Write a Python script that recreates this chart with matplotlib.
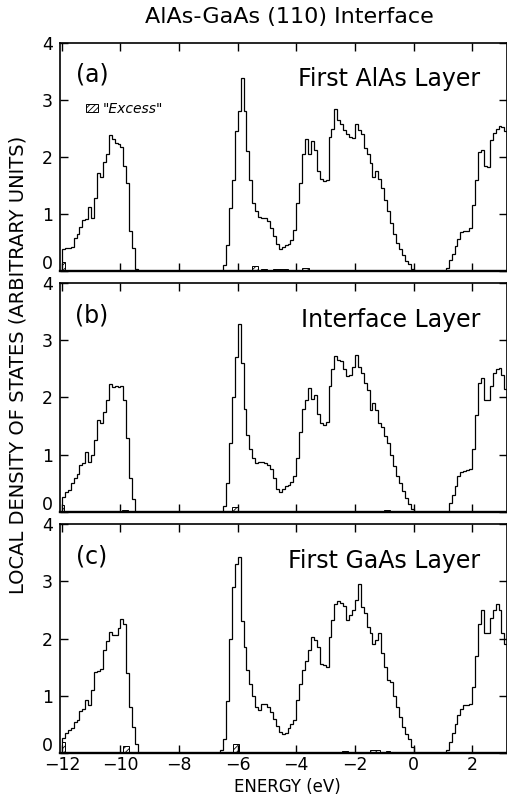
import numpy as np
import matplotlib
matplotlib.use("Agg")
import matplotlib.pyplot as plt
from matplotlib.patches import Patch
from matplotlib.transforms import ScaledTranslation

plt.rcParams['font.family'] = ['DejaVu Sans']
plt.rcParams['hatch.linewidth'] = 0.6

# histogram bins: 0.1 eV wide, starting at -12.0 eV
e_start = -12.0
bin_width = 0.1

# first AlAs layer
dos_a = [
    0.38, 0.40, 0.40, 0.42, 0.58, 0.65, 0.78, 0.90, 0.92, 1.12,
    0.93, 1.28, 1.72, 1.65, 1.92, 2.05, 2.38, 2.32, 2.25, 2.22,
    2.18, 1.85, 1.55, 0.70, 0.40, 0.03, 0, 0, 0, 0,
    0, 0, 0, 0, 0, 0, 0, 0, 0, 0,
    0, 0, 0, 0, 0, 0, 0, 0, 0, 0,
    0, 0, 0, 0, 0, 0.10, 0.45, 1.10, 1.60, 2.45,
    2.80, 3.38, 2.80, 2.10, 1.60, 1.20, 1.05, 0.95, 0.93, 0.93,
    0.88, 0.75, 0.62, 0.48, 0.38, 0.43, 0.45, 0.47, 0.55, 0.72,
    1.20, 1.55, 2.05, 2.31, 2.05, 2.28, 2.12, 1.75, 1.62, 1.58,
    1.60, 2.35, 2.50, 2.85, 2.65, 2.58, 2.48, 2.40, 2.35, 2.34,
    2.58, 2.48, 2.40, 2.15, 2.05, 1.90, 1.65, 1.75, 1.62, 1.45,
    1.25, 1.05, 0.85, 0.65, 0.50, 0.38, 0.28, 0.18, 0.12, 0.04,
    0, 0, 0, 0, 0, 0, 0, 0, 0, 0,
    0, 0.06, 0.20, 0.30, 0.44, 0.56, 0.68, 0.70, 0.71, 0.75,
    1.15, 1.60, 2.08, 2.12, 1.84, 1.82, 2.30, 2.42, 2.50, 2.54,
    2.52, 2.45,
]

# interface layer
dos_b = [
    0.26, 0.35, 0.38, 0.50, 0.60, 0.66, 0.82, 0.85, 1.05, 0.88,
    1.00, 1.25, 1.60, 1.55, 1.75, 1.95, 2.24, 2.18, 2.20, 2.18,
    2.20, 1.95, 1.30, 0.60, 0.22, 0, 0, 0, 0, 0,
    0, 0, 0, 0, 0, 0, 0, 0, 0, 0,
    0, 0, 0, 0, 0, 0, 0, 0, 0, 0,
    0, 0, 0, 0, 0, 0.10, 0.50, 1.20, 2.00, 2.70,
    3.28, 2.60, 1.80, 1.35, 1.10, 0.95, 0.86, 0.88, 0.88, 0.85,
    0.82, 0.75, 0.60, 0.40, 0.35, 0.40, 0.45, 0.47, 0.52, 0.62,
    0.95, 1.40, 1.80, 1.96, 2.16, 1.98, 2.05, 1.72, 1.55, 1.52,
    1.58, 2.20, 2.50, 2.72, 2.66, 2.63, 2.49, 2.37, 2.40, 2.54,
    2.75, 2.54, 2.43, 2.25, 2.13, 1.78, 1.90, 1.78, 1.55, 1.49,
    1.32, 1.20, 1.00, 0.80, 0.62, 0.50, 0.36, 0.24, 0.14, 0.05,
    0, 0, 0, 0, 0, 0, 0, 0, 0, 0,
    0, 0, 0.15, 0.30, 0.45, 0.62, 0.70, 0.72, 0.73, 0.75,
    1.10, 1.70, 2.25, 2.34, 1.96, 1.96, 2.20, 2.43, 2.50, 2.52,
    2.40, 2.15,
]

# first GaAs layer
dos_c = [
    0.27, 0.35, 0.40, 0.44, 0.54, 0.57, 0.74, 0.77, 0.92, 0.83,
    1.10, 1.42, 1.43, 1.47, 1.80, 1.95, 2.12, 2.07, 2.06, 2.18,
    2.34, 2.25, 1.40, 0.80, 0.45, 0.15, 0, 0, 0, 0,
    0, 0, 0, 0, 0, 0, 0, 0, 0, 0,
    0, 0, 0, 0, 0, 0, 0, 0, 0, 0,
    0, 0, 0, 0, 0.05, 0.25, 0.90, 2.00, 2.90, 3.30,
    3.43, 2.30, 1.85, 1.45, 1.20, 1.00, 0.80, 0.75, 0.86, 0.86,
    0.80, 0.72, 0.60, 0.48, 0.36, 0.33, 0.35, 0.43, 0.50, 0.58,
    0.92, 1.20, 1.45, 1.60, 1.80, 2.03, 1.98, 1.85, 1.56, 1.53,
    1.50, 2.03, 2.32, 2.60, 2.65, 2.62, 2.56, 2.32, 2.41, 2.50,
    2.67, 2.96, 2.55, 2.44, 2.20, 2.09, 1.91, 1.97, 2.09, 1.74,
    1.50, 1.28, 1.24, 1.00, 0.80, 0.63, 0.45, 0.33, 0.25, 0.10,
    0, 0, 0, 0, 0, 0, 0, 0, 0, 0,
    0, 0.05, 0.20, 0.35, 0.50, 0.66, 0.77, 0.83, 0.83, 0.85,
    1.15, 1.70, 2.26, 2.50, 2.09, 2.10, 2.35, 2.50, 2.61, 2.50,
    2.09, 1.91,
]

# "excess" hatched bits: left edge, width, height
excess_a_left = [-12.0, -11.8, -11.1, -10.5, -5.5, -5.2, -4.8, -3.8, -3.5]
excess_a_width = [0.1, 0.2, 0.15, 0.2, 0.2, 0.2, 0.5, 0.25, 0.2]
excess_a_height = [0.15, 0.02, 0.02, 0.02, 0.09, 0.03, 0.03, 0.06, 0.02]
excess_b_left = [-12.0, -9.95, -6.2, -1.0]
excess_b_width = [0.08, 0.2, 0.2, 0.2]
excess_b_height = [0.12, 0.03, 0.08, 0.03]
excess_c_left = [-12.0, -9.9, -6.15, -2.45, -1.5, -0.95]
excess_c_width = [0.1, 0.2, 0.2, 0.2, 0.35, 0.15]
excess_c_height = [0.2, 0.12, 0.16, 0.03, 0.06, 0.04]

panel_tags = ['(a)', '(b)', '(c)']
panel_names = ['First AlAs Layer', 'Interface Layer', 'First GaAs Layer']
x_ticks = [-12, -10, -8, -6, -4, -2, 0, 2]
y_ticks = [0, 1, 2, 3, 4]

panels = [
    (dos_a, excess_a_left, excess_a_width, excess_a_height),
    (dos_b, excess_b_left, excess_b_width, excess_b_height),
    (dos_c, excess_c_left, excess_c_width, excess_c_height),
]

fig = plt.figure(figsize=(5.07, 7.96), dpi=100)
boxes = [
    [0.118, 0.6595, 0.882, 0.2865],
    [0.118, 0.3568, 0.882, 0.2877],
    [0.118, 0.0540, 0.882, 0.2877],
]
nudge_down = ScaledTranslation(0, -1.5 / 72, fig.dpi_scale_trans)

for k, (dos, ex_l, ex_w, ex_h) in enumerate(panels):
    ax = fig.add_axes(boxes[k])
    edges = e_start + bin_width * np.arange(len(dos) + 1)
    ax.stairs(dos, edges, color='black', lw=0.9)
    ax.bar(ex_l, ex_h, width=ex_w, align='edge', facecolor='white',
           edgecolor='black', lw=0.7, hatch='//////')
    ax.set_xlim(-12.07, 3.19)
    ax.set_ylim(0, 4)
    ax.set_xticks(x_ticks)
    ax.set_yticks(y_ticks)
    ax.tick_params(direction='in', length=6, width=1, top=True, right=True,
                   labelsize=12.5)
    ax.tick_params(axis='y', pad=5)
    ax.tick_params(axis='x', pad=2.5)
    ax.set_xticklabels([f'\u2212{abs(t)}' if t < 0 else str(t) for t in x_ticks])
    # the "0" sits just above the axis line so it clears the next panel's "4"
    zero_lbl = ax.get_yticklabels()[0]
    zero_lbl.set_va('bottom')
    zero_lbl.set_transform(zero_lbl.get_transform() + nudge_down)
    if k < 2:
        ax.tick_params(labelbottom=False)
    for s in ax.spines.values():
        s.set_linewidth(1.2)
    ax.spines['bottom'].set_linewidth(1.7)
    ax.text(0.072, 0.86, panel_tags[k], transform=ax.transAxes,
            fontsize=17, ha='center', va='center')
    ax.text(0.94, 0.84, panel_names[k], transform=ax.transAxes,
            fontsize=17, ha='right', va='center')
    if k == 0:
        hnd = Patch(facecolor='white', edgecolor='black', lw=0.7, hatch='//////')
        ax.legend([hnd], ['"Excess"'], loc='center left',
                  bbox_to_anchor=(0.058, 0.71), frameon=False, borderpad=0,
                  borderaxespad=0, handlelength=0.85, handleheight=0.5,
                  handletextpad=0.4, prop={'size': 10, 'style': 'italic'})

fig.text(0.57, 0.979, 'AlAs-GaAs (110) Interface', fontsize=16,
         ha='center', va='center')
fig.text(0.036, 0.541, 'LOCAL DENSITY OF STATES (ARBITRARY UNITS)',
         fontsize=14, rotation=90, ha='center', va='center')
fig.text(0.566, 1 - 792 / 796, 'ENERGY (eV)', fontsize=12,
         ha='center', va='baseline')

fig.savefig('out.png', dpi=100)
